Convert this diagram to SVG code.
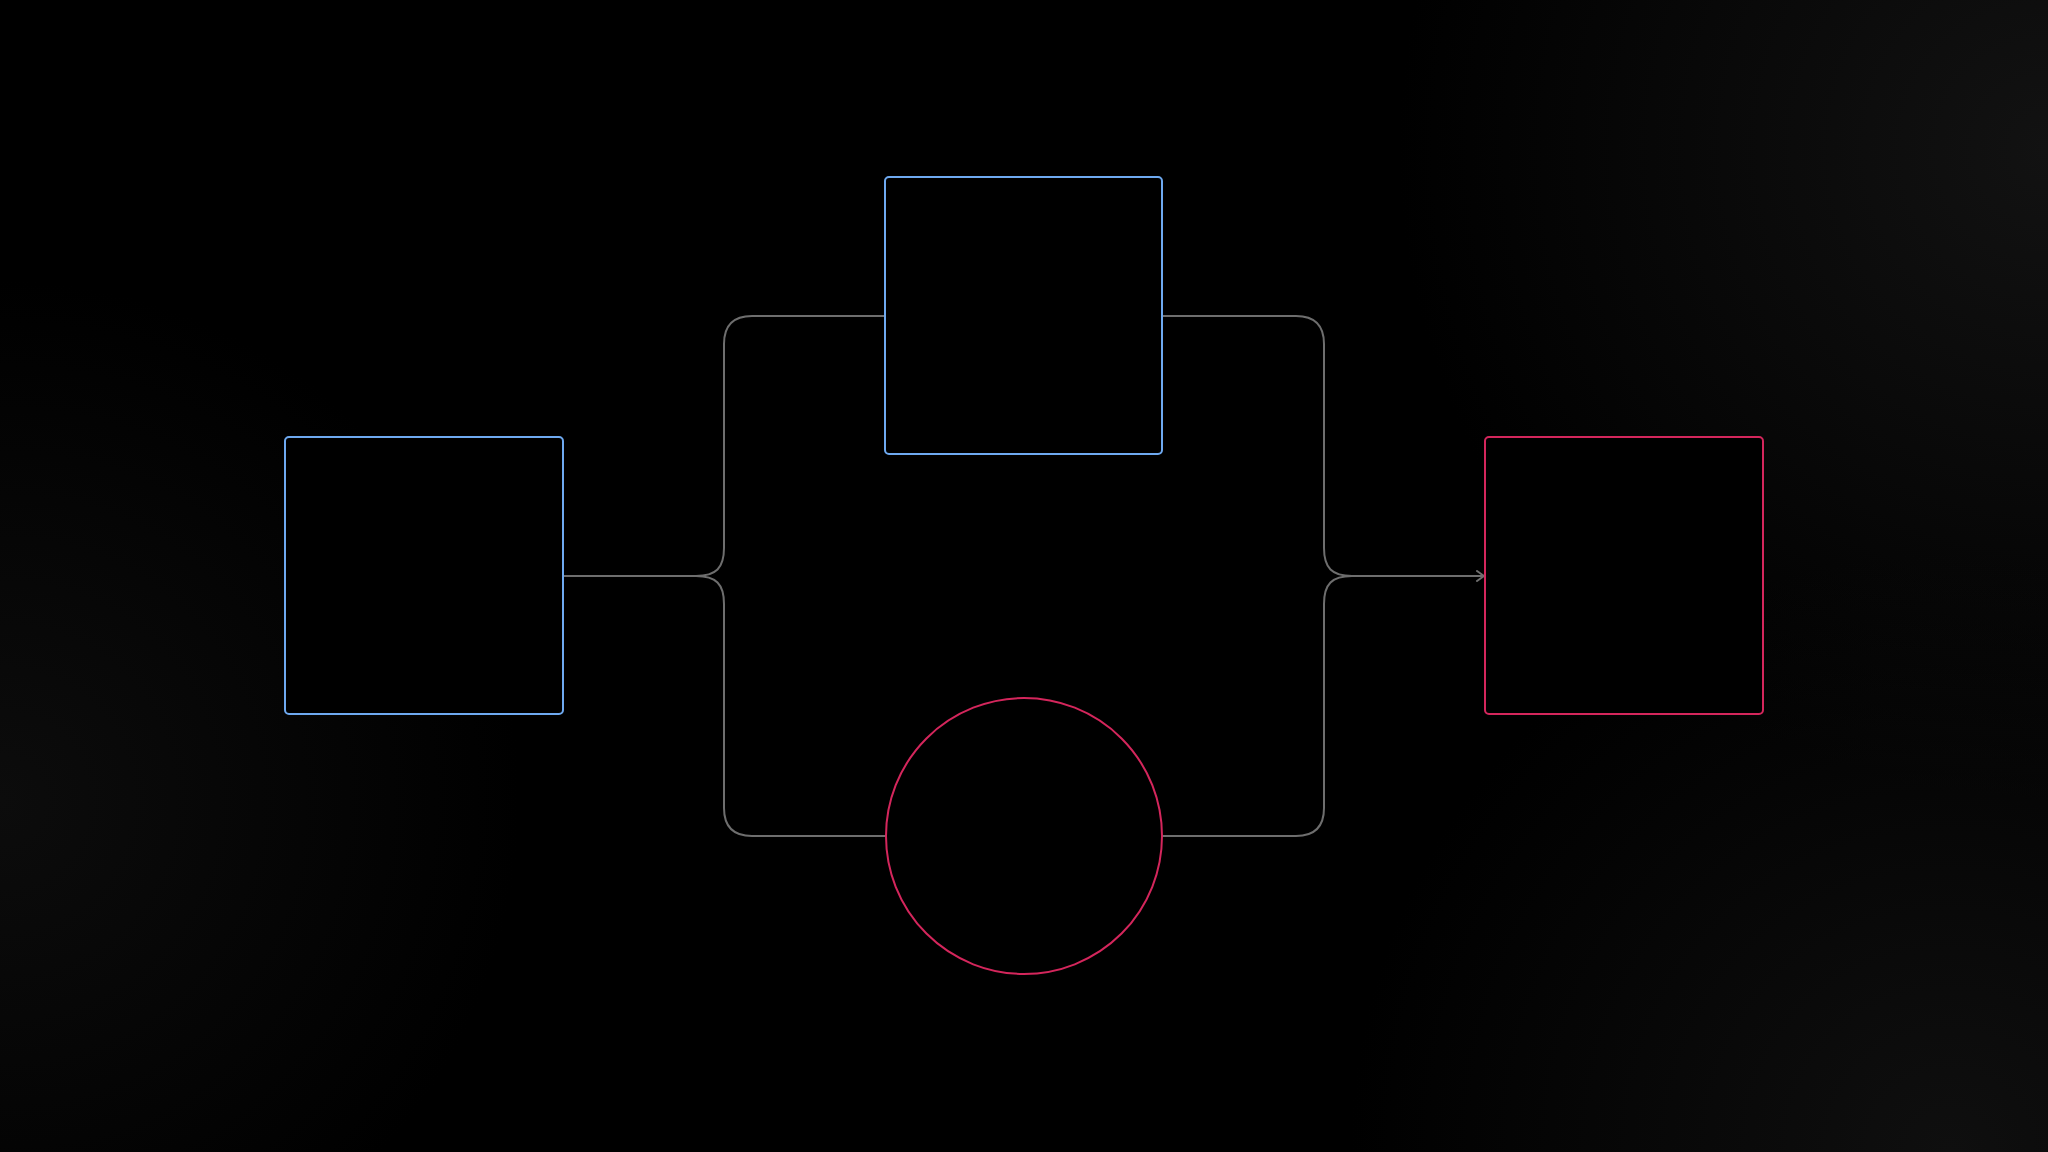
<svg xmlns="http://www.w3.org/2000/svg" width="2048" height="1152" viewBox="0 0 2048 1152">
  <defs>
    <radialGradient id="g1" cx="2048" cy="150" r="650" gradientUnits="userSpaceOnUse">
      <stop offset="0" stop-color="#121212"/>
      <stop offset="1" stop-color="#121212" stop-opacity="0"/>
    </radialGradient>
    <radialGradient id="g2" cx="1950" cy="1152" r="600" gradientUnits="userSpaceOnUse">
      <stop offset="0" stop-color="#0f0f0f"/>
      <stop offset="1" stop-color="#0f0f0f" stop-opacity="0"/>
    </radialGradient>
    <radialGradient id="g3" cx="0" cy="800" r="520" gradientUnits="userSpaceOnUse">
      <stop offset="0" stop-color="#0c0c0c"/>
      <stop offset="1" stop-color="#0c0c0c" stop-opacity="0"/>
    </radialGradient>
    <marker id="arrow" viewBox="0 0 12 12" refX="11" refY="6" markerWidth="12" markerHeight="12" markerUnits="userSpaceOnUse" orient="auto">
      <path d="M4,1 L11,6 L4,11" fill="none" stroke="#6e6e6e" stroke-width="2" stroke-linecap="round" stroke-linejoin="round"/>
    </marker>
    <style>
      .conn { fill: none; stroke: #6e6e6e; stroke-width: 2; }
      .blue { fill: #000; stroke: #6ea9f0; stroke-width: 2; }
      .red { fill: #000; stroke: #d4265c; stroke-width: 2; }
    </style>
  </defs>
  <rect width="2048" height="1152" fill="#000"/>
  <rect width="2048" height="1152" fill="url(#g1)"/>
  <rect width="2048" height="1152" fill="url(#g2)"/>
  <rect width="2048" height="1152" fill="url(#g3)"/>

  <g id="connectors">
    <path class="conn" d="M563,576 H696 C716,576 724,568 724,548 V344 Q724,316 752,316 H885"/>
    <path class="conn" d="M696,576 C716,576 724,584 724,604 V808 Q724,836 752,836 H886"/>
    <path class="conn" d="M1162,316 H1296 Q1324,316 1324,344 V548 C1324,568 1332,576 1352,576 H1484" marker-end="url(#arrow)"/>
    <path class="conn" d="M1162,836 H1296 Q1324,836 1324,808 V604 C1324,584 1332,576 1352,576"/>
  </g>

  <g id="node-left">
    <rect class="blue" x="285" y="437" width="278" height="277" rx="4"/>
  </g>
  <g id="node-top">
    <rect class="blue" x="885" y="177" width="277" height="277" rx="4"/>
  </g>
  <g id="node-circle">
    <circle class="red" cx="1024" cy="836" r="138"/>
  </g>
  <g id="node-right">
    <rect class="red" x="1485" y="437" width="278" height="277" rx="4"/>
  </g>
</svg>
